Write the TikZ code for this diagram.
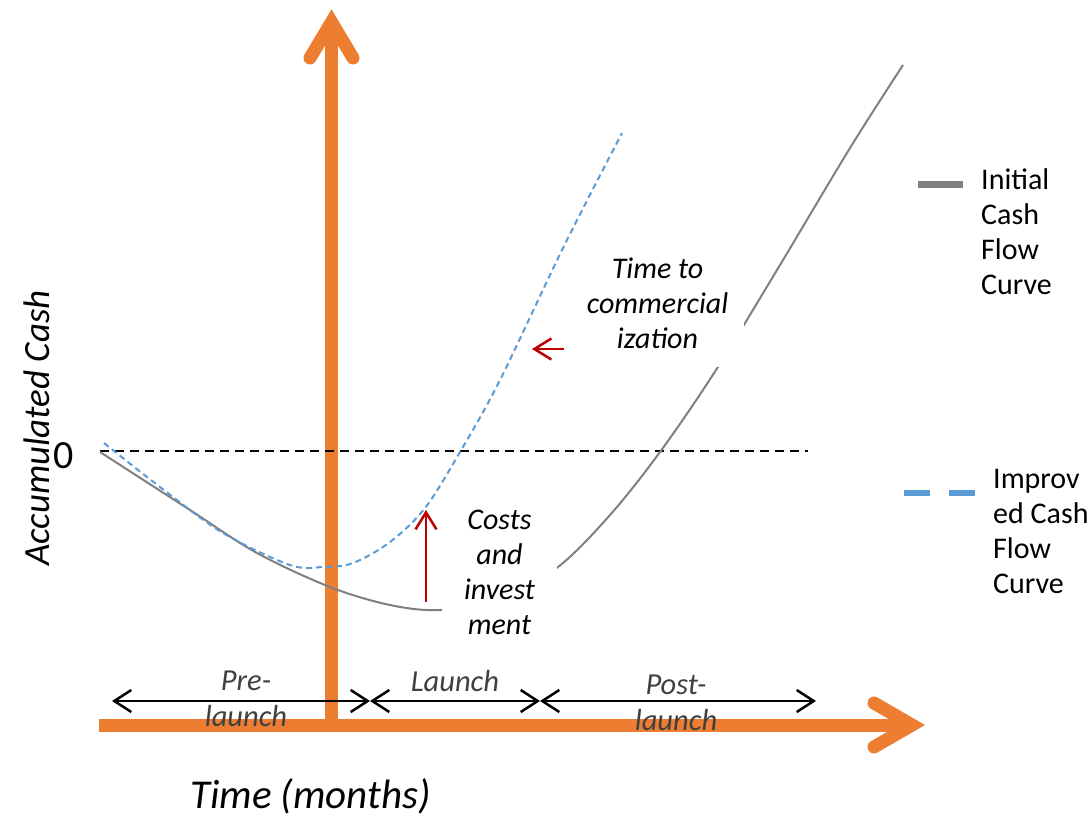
\documentclass[tikz,border=0pt]{standalone}
\usepackage{fontspec}
\setmainfont{Carlito}
\usetikzlibrary{arrows.meta}
\definecolor{axorange}{HTML}{ED7D31}
\definecolor{cblue}{HTML}{5B9BD5}
\definecolor{cgray}{HTML}{808080}
\definecolor{cred}{HTML}{C00000}
\definecolor{labgray}{HTML}{404040}
\begin{document}
\begin{tikzpicture}[x=1pt,y=-1pt,
  axisline/.style={draw=axorange, line width=13pt},
  axisbarb/.style={draw=axorange, line width=13pt, line cap=round, line join=miter},
  lab/.style={font=\fontsize{30}{35}\selectfont\itshape, align=center, inner sep=0pt},
  cover/.style={lab, fill=white},
  phase/.style={font=\fontsize{30.5}{36}\selectfont\itshape, text=labgray, align=center, inner sep=0pt},
  legtext/.style={font=\fontsize{30}{35}\selectfont, align=left, inner sep=0pt, anchor=west},
  phasearrow/.style={draw=black, line width=2.5pt, {Straight Barb[length=17pt,width=22pt]}-{Straight Barb[length=17pt,width=22pt]}},
  redarrow/.style={draw=cred, line width=2.5pt, -{Straight Barb[length=17pt,width=21pt]}},
  initcurve/.style={draw=cgray, line width=2pt},
  impcurve/.style={draw=cblue, line width=2pt, dash pattern=on 6pt off 4pt},
  zeroline/.style={draw=black, line width=2pt, dash pattern=on 9pt off 6pt}
]
\useasboundingbox (0,0) rectangle (1091,819);

% axes
\coordinate (yTop) at (331.5,22);
\coordinate (xEnd) at (912,725);
\coordinate (orig) at (331.5,725);
\coordinate (xStart) at (99,725);
\draw[axisline] (xStart) -- (xEnd);
\draw[axisline] (orig) -- (yTop);
\draw[axisbarb] (310,58) -- (yTop) -- (353,58);
\draw[axisbarb] (874,703) -- (xEnd) -- (874,747);

% zero line
\coordinate (z0) at (100,451);
\coordinate (z1) at (808,451);
\draw[zeroline] (z0) -- (z1);

% initial cash flow curve
\draw[initcurve] plot[smooth, tension=0.55] coordinates {(100,452) (190,510) (257,553) (330,587) (390,605) (440,610) (500,600) (558,567) (610,515) (660,452) (716,370) (780,265) (850,148) (903,65)};

% improved cash flow curve
\draw[impcurve] plot[smooth, tension=0.55] coordinates {(104,443) (160,487) (223,533) (290,565) (323,567) (353,563) (390,542) (425,508) (460,452) (500,380) (563,248) (622,133)};

% labels with white cover
\node[cover, minimum width=115pt, minimum height=145pt] (costs) at (499.5,572) {Costs\\and\\invest\\ment};
\node[cover, minimum width=173pt, minimum height=127pt] (ttc) at (657.5,303.5) {Time to\\commercial\\ization};

% red arrows
\coordinate (r1s) at (426,602);
\coordinate (r1e) at (426,510);
\coordinate (r2s) at (564,349);
\coordinate (r2e) at (532,349);
\draw[redarrow] (r1s) -- (r1e);
\draw[redarrow] (r2s) -- (r2e);

% phase arrows
\coordinate (p0) at (112,701);
\coordinate (p1) at (370,701);
\coordinate (p2) at (540,701);
\coordinate (p3) at (816,701);
\draw[phasearrow] (p0) -- (p1);
\draw[phasearrow] (p1) -- (p2);
\draw[phasearrow] (p2) -- (p3);

\node[phase] (pre) at (246,699) {Pre-\\launch};
\node[phase] (launch) at (455,681) {Launch};
\node[phase] (post) at (676,703) {Post-\\launch};

% axis labels
\node[font=\fontsize{41}{48}\selectfont\itshape, inner sep=0pt] (xlab) at (310.5,796) {Time (months)};
\node[font=\fontsize{37}{42}\selectfont\itshape, inner sep=0pt, rotate=90] (ylab) at (37,428) {Accumulated Cash};
\node[font=\fontsize{40}{46}\selectfont, inner sep=0pt] (zero) at (64,456) {0};

% legend
\coordinate (g0) at (918,184);
\coordinate (g1) at (963,184);
\draw[draw=cgray, line width=7pt] (g0) -- (g1);
\node[legtext] (leg1) at (981,232) {Initial\\Cash\\Flow\\Curve};
\coordinate (b0) at (904,493);
\coordinate (b1) at (930,493);
\coordinate (b2) at (949,493);
\coordinate (b3) at (975,493);
\draw[draw=cblue, line width=6pt] (b0) -- (b1);
\draw[draw=cblue, line width=6pt] (b2) -- (b3);
\node[legtext] (leg2) at (993,531) {Improv\\ed Cash\\Flow\\Curve};
\end{tikzpicture}
\end{document}
